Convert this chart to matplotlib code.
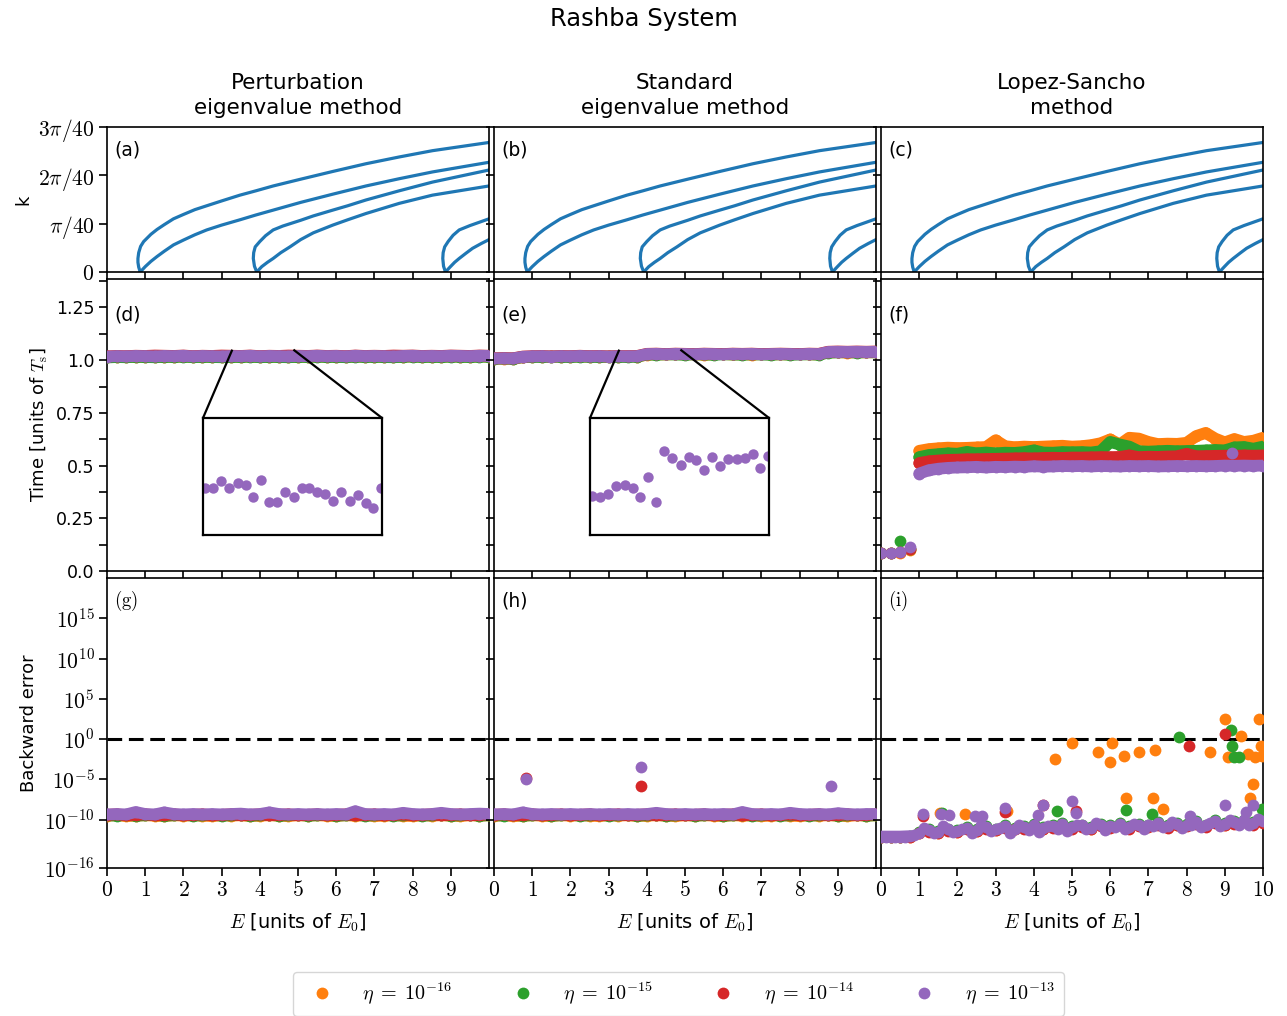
import matplotlib
matplotlib.use("Agg")
import matplotlib.pyplot as plt
import numpy as np
from matplotlib.lines import Line2D
from mpl_toolkits.axes_grid1.inset_locator import mark_inset

plt.rcParams['font.family'] = 'DejaVu Sans'
plt.rcParams['mathtext.fontset'] = 'cm'

# ---- band structure (k in units of pi/40) ----
band1_up_E = [0.87, 0.83, 0.81, 0.81, 0.83, 0.88, 0.96, 1.15, 1.31, 1.50, 1.74, 2.00, 2.30, 2.61, 3.00, 3.48, 3.90,
              4.35, 5.07, 5.91, 6.78, 7.65, 8.52, 10.0]
band1_up_k = [0.00, 0.10, 0.20, 0.28, 0.40, 0.53, 0.63, 0.78, 0.88, 0.98, 1.10, 1.19, 1.29, 1.37, 1.47, 1.59, 1.68,
              1.78, 1.92, 2.08, 2.24, 2.38, 2.51, 2.68]
band1_lo_E = [0.87, 1.00, 1.15, 1.31, 1.50, 1.74, 2.00, 2.30, 2.61, 3.00, 3.48, 3.90, 4.35, 5.07, 5.91, 6.78, 7.65, 8.52, 10.0]
band1_lo_k = [0.00, 0.11, 0.22, 0.32, 0.43, 0.56, 0.66, 0.77, 0.87, 0.97, 1.08, 1.18, 1.28, 1.44, 1.61, 1.78, 1.93, 2.07, 2.27]
band2_up_E = [3.92, 3.86, 3.83, 3.84, 3.88, 4.00, 4.15, 4.35, 4.60, 5.07, 5.40, 5.91, 6.30, 6.78, 7.65, 8.52, 10.0]
band2_up_k = [0.00, 0.12, 0.28, 0.40, 0.52, 0.63, 0.75, 0.87, 0.95, 1.07, 1.16, 1.28, 1.37, 1.49, 1.68, 1.86, 2.11]
band2_lo_E = [3.92, 4.05, 4.20, 4.35, 4.55, 4.79, 5.07, 5.40, 5.91, 6.30, 6.78, 7.65, 8.52, 10.0]
band2_lo_k = [0.00, 0.11, 0.20, 0.28, 0.40, 0.52, 0.67, 0.81, 0.97, 1.08, 1.21, 1.42, 1.59, 1.78]
band3_up_E = [8.86, 8.81, 8.79, 8.80, 8.84, 8.93, 9.06, 9.22, 9.50, 9.75, 10.0]
band3_up_k = [0.00, 0.12, 0.28, 0.40, 0.52, 0.63, 0.76, 0.87, 0.96, 1.03, 1.10]
band3_lo_E = [8.86, 8.99, 9.10, 9.22, 9.40, 9.57, 9.80, 10.0]
band3_lo_k = [0.00, 0.11, 0.20, 0.28, 0.39, 0.49, 0.59, 0.67]
bands = [(band1_up_E, band1_up_k), (band1_lo_E, band1_lo_k),
         (band2_up_E, band2_up_k), (band2_lo_E, band2_lo_k),
         (band3_up_E, band3_up_k), (band3_lo_E, band3_lo_k)]

# ---- energy grid for the scans ----
E = np.arange(41) * 0.25

# ---- time, perturbation method (d) ----
td_orange = [1.014, 1.016, 1.015, 1.017, 1.016, 1.015, 1.017, 1.016, 1.018, 1.015,
             1.017, 1.016, 1.015, 1.017, 1.016, 1.018, 1.015, 1.017, 1.016, 1.015,
             1.017, 1.016, 1.018, 1.016, 1.017, 1.015, 1.018, 1.016, 1.017, 1.016,
             1.015, 1.017, 1.018, 1.016, 1.017, 1.016, 1.018, 1.017, 1.016, 1.018, 1.017]
td_green = [1.013, 1.015, 1.014, 1.016, 1.015, 1.014, 1.016, 1.015, 1.017, 1.014,
            1.016, 1.015, 1.014, 1.016, 1.015, 1.017, 1.014, 1.016, 1.015, 1.014,
            1.016, 1.015, 1.017, 1.015, 1.016, 1.014, 1.017, 1.015, 1.016, 1.015,
            1.014, 1.016, 1.017, 1.015, 1.016, 1.015, 1.017, 1.016, 1.015, 1.017, 1.016]
td_red = [1.018, 1.020, 1.019, 1.021, 1.020, 1.022, 1.021, 1.020, 1.022, 1.019,
          1.021, 1.020, 1.022, 1.021, 1.020, 1.022, 1.019, 1.021, 1.020, 1.022,
          1.021, 1.020, 1.022, 1.020, 1.021, 1.019, 1.022, 1.020, 1.021, 1.020,
          1.022, 1.021, 1.022, 1.020, 1.021, 1.020, 1.022, 1.021, 1.020, 1.022, 1.021]
td_purple = [1.017, 1.019, 1.018, 1.020, 1.019, 1.018, 1.020, 1.019, 1.021, 1.018,
             1.020, 1.019, 1.018, 1.020, 1.019, 1.021, 1.018, 1.020, 1.019, 1.018,
             1.020, 1.019, 1.021, 1.019, 1.020, 1.018, 1.021, 1.019, 1.020, 1.019,
             1.018, 1.020, 1.021, 1.019, 1.020, 1.019, 1.021, 1.020, 1.019, 1.021, 1.020]

# ---- time, standard method (e) ----
te_orange = [1.006, 1.007, 1.006, 1.014, 1.016, 1.017, 1.015, 1.017, 1.016, 1.018,
             1.016, 1.017, 1.015, 1.016, 1.018, 1.017, 1.026, 1.028, 1.027, 1.029,
             1.027, 1.028, 1.026, 1.028, 1.029, 1.027, 1.028, 1.026, 1.029, 1.027,
             1.028, 1.027, 1.029, 1.028, 1.027, 1.037, 1.038, 1.036, 1.038, 1.037, 1.038]
te_green = [1.007, 1.008, 1.007, 1.015, 1.016, 1.015, 1.017, 1.016, 1.015, 1.017,
            1.016, 1.015, 1.017, 1.016, 1.015, 1.017, 1.027, 1.026, 1.028, 1.027,
            1.026, 1.028, 1.027, 1.026, 1.028, 1.027, 1.026, 1.028, 1.027, 1.026,
            1.028, 1.026, 1.027, 1.028, 1.026, 1.036, 1.037, 1.038, 1.036, 1.038, 1.037]
te_red = [1.009, 1.010, 1.009, 1.017, 1.019, 1.020, 1.018, 1.020, 1.019, 1.021,
          1.019, 1.020, 1.018, 1.020, 1.019, 1.020, 1.030, 1.031, 1.029, 1.031,
          1.030, 1.029, 1.031, 1.030, 1.029, 1.031, 1.030, 1.031, 1.029, 1.030,
          1.031, 1.030, 1.029, 1.031, 1.030, 1.040, 1.041, 1.040, 1.041, 1.040, 1.041]
te_purple = [1.008, 1.009, 1.008, 1.016, 1.018, 1.019, 1.017, 1.019, 1.018, 1.020,
             1.018, 1.019, 1.017, 1.019, 1.018, 1.019, 1.029, 1.030, 1.028, 1.030,
             1.029, 1.028, 1.030, 1.029, 1.028, 1.030, 1.029, 1.030, 1.028, 1.029,
             1.030, 1.029, 1.028, 1.030, 1.029, 1.039, 1.040, 1.039, 1.040, 1.039, 1.040]

# ---- zoomed purple points for the insets ----
E_ins = [3.30, 3.37, 3.44, 3.51, 3.59, 3.66, 3.73, 3.80, 3.87, 3.94, 4.01, 4.09,
         4.16, 4.23, 4.30, 4.37, 4.44, 4.51, 4.59, 4.66, 4.73, 4.80, 4.87]
td_ins = [1.0200, 1.0200, 1.0230, 1.0200, 1.0222, 1.0213, 1.0165, 1.0235, 1.0140, 1.0140,
          1.0185, 1.0165, 1.0200, 1.0200, 1.0185, 1.0175, 1.0144, 1.0185, 1.0144, 1.0171,
          1.0136, 1.0117, 1.0200]
te_ins = [1.0168, 1.0161, 1.0175, 1.0208, 1.0214, 1.0200, 1.0161, 1.0250, 1.0143, 1.0361,
          1.0332, 1.0299, 1.0336, 1.0322, 1.0279, 1.0336, 1.0297, 1.0325, 1.0325, 1.0329,
          1.0349, 1.0289, 1.0339]

# ---- time, Lopez-Sancho (f): first 4 points below the band edge ----
tf_orange = [0.085, 0.086, 0.087, 0.100,
             0.570, 0.578, 0.582, 0.585, 0.583, 0.584, 0.586, 0.588, 0.620, 0.592,
             0.587, 0.590, 0.588, 0.590, 0.592, 0.594, 0.590, 0.592, 0.597, 0.606,
             0.624, 0.600, 0.632, 0.628, 0.612, 0.602, 0.604, 0.603, 0.608, 0.640,
             0.655, 0.628, 0.610, 0.626, 0.612, 0.618, 0.632]
tf_green = [0.086, 0.087, 0.140, 0.102,
            0.540, 0.550, 0.554, 0.558, 0.556, 0.565, 0.558, 0.562, 0.558, 0.561,
            0.560, 0.564, 0.572, 0.562, 0.561, 0.564, 0.563, 0.564, 0.562, 0.568,
            0.612, 0.600, 0.590, 0.568, 0.566, 0.568, 0.570, 0.568, 0.569, 0.570,
            0.572, 0.574, 0.572, 0.586, 0.588, 0.580, 0.590]
tf_red = [0.085, 0.086, 0.088, 0.104,
          0.512, 0.520, 0.524, 0.527, 0.528, 0.530, 0.530, 0.531, 0.532, 0.533,
          0.534, 0.535, 0.534, 0.536, 0.537, 0.536, 0.538, 0.538, 0.539, 0.540,
          0.540, 0.541, 0.548, 0.540, 0.542, 0.541, 0.543, 0.544, 0.556, 0.544,
          0.545, 0.546, 0.547, 0.546, 0.548, 0.547, 0.548]
tf_purple = [0.086, 0.087, 0.090, 0.112,
             0.462, 0.478, 0.485, 0.489, 0.491, 0.492, 0.494, 0.491, 0.494, 0.493,
             0.495, 0.494, 0.497, 0.495, 0.496, 0.498, 0.497, 0.498, 0.496, 0.498,
             0.497, 0.496, 0.498, 0.497, 0.498, 0.496, 0.497, 0.498, 0.497, 0.498,
             0.497, 0.498, 0.500, 0.499, 0.500, 0.499, 0.500]
tf_out_E_purple = [9.2]
tf_out_purple = [0.558]

# ---- backward error, log10 values (g) ----
bg_orange = [-9.50, -9.45, -9.55, -9.50, -9.45, -9.50, -9.55, -9.45, -9.50, -9.45,
             -9.50, -9.55, -9.45, -9.50, -9.45, -9.55, -9.50, -9.45, -9.50, -9.55,
             -9.45, -9.50, -9.45, -9.50, -9.55, -9.45, -9.50, -9.45, -9.55, -9.50,
             -9.45, -9.50, -9.55, -9.45, -9.50, -9.45, -9.50, -9.55, -9.45, -9.50, -9.45]
bg_green = [-9.45, -9.50, -9.40, -9.50, -9.45, -9.40, -9.50, -9.45, -9.40, -9.50,
            -9.45, -9.40, -9.50, -9.45, -9.40, -9.50, -9.45, -9.40, -9.50, -9.45,
            -9.40, -9.50, -9.45, -9.40, -9.50, -9.45, -9.40, -9.50, -9.45, -9.40,
            -9.50, -9.45, -9.40, -9.50, -9.45, -9.40, -9.50, -9.45, -9.40, -9.50, -9.45]
bg_red = [-9.40, -9.35, -9.45, -9.40, -9.35, -9.45, -9.40, -9.35, -9.45, -9.40,
          -9.35, -9.45, -9.40, -9.35, -9.45, -9.40, -9.35, -9.45, -9.40, -9.35,
          -9.45, -9.40, -9.35, -9.45, -9.40, -9.35, -9.45, -9.40, -9.35, -9.45,
          -9.40, -9.35, -9.45, -9.40, -9.35, -9.45, -9.40, -9.35, -9.45, -9.40, -9.35]
bg_purple = [-9.35, -9.30, -9.35, -9.05, -9.30, -9.35, -9.10, -9.30, -9.35, -9.30,
             -9.35, -9.30, -9.35, -9.30, -9.25, -9.35, -9.30, -9.10, -9.30, -9.35,
             -9.30, -9.35, -9.30, -9.35, -9.30, -9.35, -8.95, -9.30, -9.35, -9.30,
             -9.35, -9.15, -9.30, -9.35, -9.30, -9.15, -9.30, -9.35, -9.30, -9.25, -9.30]

# ---- backward error, log10 values (h) ----
bh_orange = bg_orange
bh_green = bg_green
bh_red = bg_red
bh_purple = [-9.35, -9.30, -9.35, -9.10, -9.30, -9.35, -9.30, -9.35, -9.30, -9.35,
             -9.30, -9.35, -9.30, -9.35, -9.30, -9.35, -9.30, -9.15, -9.30, -9.35,
             -9.30, -9.35, -9.30, -9.35, -9.30, -9.35, -9.05, -9.30, -9.35, -9.30,
             -9.35, -9.15, -9.30, -9.35, -9.30, -9.35, -9.20, -9.30, -9.35, -9.30, -9.30]
bh_out_E_red = [0.85, 3.86]
bh_out_red = [-4.85, -5.84]
bh_out_E_purple = [0.85, 3.86, 8.83]
bh_out_purple = [-5.0, -3.4, -5.84]

# ---- backward error, log10 values (i) ----
bi_orange = [-12.15, -12.15, -12.15, -12.10,
             -11.7, -11.4, -11.6, -11.3, -11.5, -11.1, -11.4, -11.0, -11.3, -10.9,
             -11.2, -11.0, -10.7, -11.1, -10.9, -10.6, -11.0, -10.8, -11.1, -10.7,
             -10.9, -10.6, -11.0, -10.7, -10.8, -10.5, -10.9, -10.6, -10.7, -10.4,
             -10.8, -10.3, -10.6, -10.4, -10.2, -10.5, -10.3]
bi_green = [-12.12, -12.12, -12.12, -12.08,
            -11.5, -11.2, -11.4, -11.1, -11.3, -10.9, -11.2, -10.8, -11.1, -10.7,
            -11.0, -10.8, -10.5, -10.9, -10.7, -10.4, -10.8, -10.6, -10.9, -10.5,
            -10.7, -10.4, -10.8, -10.5, -10.6, -10.3, -10.7, -10.4, -10.5, -10.2,
            -10.6, -10.1, -10.4, -10.2, -10.0, -10.3, -10.1]
bi_red = [-12.18, -12.18, -12.18, -12.12,
          -11.7, -11.5, -11.6, -11.4, -11.5, -11.2, -11.4, -11.1, -11.3, -11.0,
          -11.2, -11.1, -10.8, -11.1, -11.0, -10.7, -11.1, -10.9, -11.1, -10.8,
          -11.0, -10.7, -11.1, -10.8, -10.9, -10.6, -11.0, -10.7, -10.8, -10.5,
          -10.9, -10.4, -10.7, -10.5, -10.3, -10.6, -10.4]
bi_purple = [-12.10, -12.10, -12.10, -12.05,
             -11.6, -11.3, -11.5, -11.2, -11.4, -11.0, -11.3, -10.9, -11.2, -10.8,
             -11.1, -10.9, -10.6, -11.0, -10.8, -10.5, -10.9, -10.7, -11.0, -10.6,
             -10.8, -10.5, -10.9, -10.6, -10.7, -10.4, -10.8, -10.5, -10.6, -10.3,
             -10.7, -10.2, -10.5, -10.3, -10.1, -10.4, -10.2]
# purple points in between the grid energies (E + 0.125)
bi_purple_mid = [-12.10, -12.10, -12.10, -11.90,
                 -11.0, -11.6, -10.8, -11.5, -11.1, -11.7, -10.7, -11.4, -11.0, -11.6,
                 -10.6, -11.3, -11.5, -10.8, -11.2, -11.4, -10.6, -11.2, -10.4, -11.3,
                 -10.9, -11.1, -10.5, -11.2, -10.8, -10.9, -10.3, -11.0, -10.6, -10.9,
                 -10.4, -10.8, -10.0, -10.6, -10.7, -9.9]
bi_out_E_orange = [1.55, 2.20, 3.30, 4.55, 4.99, 5.69, 6.00, 6.06, 6.37, 6.41, 6.76, 7.13,
                   7.16, 7.38, 8.62, 9.00, 9.08, 9.43, 9.60, 9.67, 9.73, 9.78, 9.90, 9.95, 9.97]
bi_out_orange = [-9.2, -9.25, -8.9, -2.42, -0.52, -1.64, -2.79, -0.52, -2.05, -7.27, -1.64, -7.27,
                 -1.35, -8.64, -1.64, 2.48, -2.17, 0.42, -1.84, -7.27, -5.63, -2.17, 2.48, -0.81, -2.05]
bi_out_E_green = [1.60, 4.60, 6.41, 7.10, 7.80, 9.15, 9.18, 9.23, 9.38, 9.97]
bi_out_green = [-9.2, -8.97, -8.77, -9.3, 0.30, 1.19, -0.85, -2.17, -2.17, -8.64]
bi_out_E_red = [1.10, 3.25, 4.25, 5.10, 8.05, 9.00]
bi_out_red = [-9.6, -9.0, -8.2, -8.9, -0.85, 0.63]
bi_out_E_purple = [1.10, 1.56, 1.78, 2.45, 2.65, 3.25, 4.10, 4.25, 4.99, 5.10, 8.10, 9.00, 9.55, 9.73]
bi_out_purple = [-9.33, -9.3, -9.4, -9.6, -9.5, -8.6, -9.4, -8.2, -7.73, -9.2, -9.5, -8.2, -9.0, -8.2]

colors = ['#ff7f0e', '#2ca02c', '#d62728', '#9467bd']
eta_labels = [r'$\eta \;=\; 10^{-16}$', r'$\eta \;=\; 10^{-15}$', r'$\eta \;=\; 10^{-14}$', r'$\eta \;=\; 10^{-13}$']
col_titles = ['Perturbation\neigenvalue method', 'Standard\neigenvalue method', 'Lopez-Sancho\nmethod']
panel_labels = ['(a)', '(b)', '(c)', '(d)', '(e)', '(f)', r'$(\mathrm{g})$', '(h)', r'$(\mathrm{i})$']

time_data = [[td_orange, td_green, td_red, td_purple],
             [te_orange, te_green, te_red, te_purple],
             [tf_orange, tf_green, tf_red, tf_purple]]
err_data = [[bg_orange, bg_green, bg_red, bg_purple],
            [bh_orange, bh_green, bh_red, bh_purple]]

ms = 8.5


def dense(ax, x, y, col):
    # densely sampled points: markers plus a band of the same width
    ax.plot(x, y, '-', lw=ms, color=col, solid_capstyle='round', solid_joinstyle='round', zorder=3)
    ax.plot(x, y, 'o', ms=ms, color=col, mec='none', zorder=3)


def dots(ax, x, y, col):
    ax.plot(x, y, 'o', ms=ms, color=col, mec='none', zorder=3)


fig = plt.figure(figsize=(12.87, 10.16), dpi=100)
gs = fig.add_gridspec(3, 3, left=107/1287, right=1263/1287, top=1-127/1016, bottom=1-868/1016,
                      height_ratios=[145, 292, 290], wspace=0.0131, hspace=0.029)
axs = gs.subplots(sharex='col', sharey='row')

for c in range(3):
    ax = axs[0, c]
    for bE, bk in bands:
        ax.plot(bE, np.array(bk) * np.pi / 40, color='#1f77b4', lw=2.3,
                solid_joinstyle='round')
    ax.set_title(col_titles[c], fontsize=15.5, pad=9, linespacing=1.35)
    axs[2, c].axhline(1.0, color='k', ls='--', lw=2.2, dashes=(4.8, 2.2), zorder=2)

# time rows
for c in range(2):
    for s, col in zip(time_data[c], colors):
        dense(axs[1, c], E, s, col)
for s, col in zip(time_data[2], colors):
    dots(axs[1, 2], E[:4], s[:4], col)
    dense(axs[1, 2], E[4:], s[4:], col)
dots(axs[1, 2], tf_out_E_purple, tf_out_purple, colors[3])

# backward error rows
for c in range(2):
    for s, col in zip(err_data[c], colors):
        dense(axs[2, c], E, 10.0 ** np.array(s), col)
dots(axs[2, 1], bh_out_E_red, 10.0 ** np.array(bh_out_red), colors[2])
dots(axs[2, 1], bh_out_E_purple, 10.0 ** np.array(bh_out_purple), colors[3])

ax = axs[2, 2]
for s, col in zip([bi_orange, bi_green, bi_red], colors[:3]):
    dots(ax, E, 10.0 ** np.array(s), col)
for oE, ov, col in [(bi_out_E_orange, bi_out_orange, colors[0]), (bi_out_E_green, bi_out_green, colors[1]),
                    (bi_out_E_red, bi_out_red, colors[2])]:
    dots(ax, oE, 10.0 ** np.array(ov), col)
ax.plot(E[:4], 10.0 ** np.array(bi_purple[:4]), '-', lw=ms, color=colors[3], solid_capstyle='round', zorder=3)
dots(ax, E, 10.0 ** np.array(bi_purple), colors[3])
dots(ax, E[:-1] + 0.125, 10.0 ** np.array(bi_purple_mid), colors[3])
dots(ax, bi_out_E_purple, 10.0 ** np.array(bi_out_purple), colors[3])

# insets
for c, tins in [(0, td_ins), (1, te_ins)]:
    ax = axs[1, c]
    axins = ax.inset_axes([0.251, 0.123, 0.47, 0.40])
    axins.plot(E_ins, tins, 'o', ms=7.5, color=colors[3], mec='none')
    axins.set_xlim(3.28, 4.88)
    axins.set_ylim(1.0, 1.05)
    axins.set_xticks([])
    axins.set_yticks([])
    for sp in axins.spines.values():
        sp.set_linewidth(1.6)
    pp, p1, p2 = mark_inset(ax, axins, loc1=1, loc2=2, fc='none', ec='k', lw=1.6)
    pp.set_visible(False)
    p1.set_zorder(1)
    p2.set_zorder(1)

# axes formatting
for r in range(3):
    for c in range(3):
        ax = axs[r, c]
        for sp in ax.spines.values():
            sp.set_linewidth(1.2)
        ax.tick_params(which='both', direction='out', length=5.5, width=1.2, labelsize=12.5)
        ax.text(0.018, [0.84, 0.877, 0.92][r], panel_labels[c + 3 * r], transform=ax.transAxes,
                fontsize=13.5, va='center', ha='left')

math_size = 15.5
axs[0, 0].set_ylim(0, 3 * np.pi / 40)
axs[0, 0].set_yticks([0, np.pi / 40, 2 * np.pi / 40, 3 * np.pi / 40])
axs[0, 0].set_yticklabels(['$0$', r'$\pi/40$', r'$2\pi/40$', r'$3\pi/40$'], fontsize=math_size)
axs[0, 0].set_ylabel('k', fontsize=13)

axs[1, 0].set_ylim(0, 1.385)
axs[1, 0].set_yticks([0, 0.25, 0.5, 0.75, 1.0, 1.25])
axs[1, 0].set_yticklabels(['0.0', '0.25', '0.5', '0.75', '1.0', '1.25'])
axs[1, 0].set_yticks([0.125, 0.375, 0.625, 0.875, 1.125, 1.375], minor=True)
axs[1, 0].set_ylabel(r'Time [units of $T_\mathrm{s}$]', fontsize=13)

axs[2, 0].set_yscale('log')
axs[2, 0].set_ylim(1e-16, 1e20)
axs[2, 0].set_yticks([1e-16, 1e-10, 1e-5, 1e0, 1e5, 1e10, 1e15])
axs[2, 0].set_yticklabels([r'$10^{-16}$', r'$10^{-10}$', r'$10^{-5}$', r'$10^{0}$',
                           r'$10^{5}$', r'$10^{10}$', r'$10^{15}$'], fontsize=math_size)
axs[2, 0].yaxis.set_minor_locator(matplotlib.ticker.NullLocator())
axs[2, 0].set_ylabel('Backward error', fontsize=13)

for c in range(3):
    n = 11 if c == 2 else 10
    axs[2, c].set_xlim(0, 10)
    axs[2, c].set_xticks(range(n))
    axs[2, c].set_xticklabels(['$%d$' % i for i in range(n)], fontsize=math_size)
    axs[2, c].set_xlabel(r'$E$ [units of $E_0$]', fontsize=14, labelpad=8)

fig.suptitle('Rashba System', fontsize=17.5, y=0.993)

handles = [Line2D([], [], marker='o', ls='none', color=col, mec='none', ms=8.5) for col in colors]
fig.legend(handles, eta_labels, loc='center', bbox_to_anchor=(0.527, 0.0217), ncol=4, fontsize=14.5,
           handletextpad=1.0, columnspacing=2.5, borderpad=0.45, edgecolor='0.8')

fig.savefig('out.png', dpi=100)
